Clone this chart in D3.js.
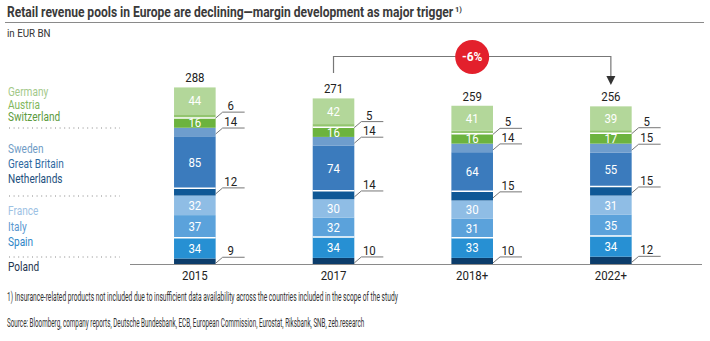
<!DOCTYPE html>
<html lang="en">
<head>
<meta charset="utf-8">
<title>Retail revenue pools in Europe</title>
<style>
  body { margin: 0; background: #fff; }
  svg text { font-family: Roboto, 'DejaVu Sans', sans-serif; }
</style>
<script src="https://d3js.org/d3.v7.min.js"></script>
</head>
<body>
<svg id="chart" width="710" height="341"></svg>
<script>
// data (EUR bn)
var years = ["2015", "2017", "2018+", "2022+"];
var totals = [288, 271, 259, 256];

var poland      = [9, 10, 10, 12];
var spain       = [34, 34, 33, 34];
var italy       = [37, 32, 31, 35];
var france      = [32, 30, 30, 31];
var netherlands = [12, 14, 15, 15];
var greatBritain = [85, 74, 64, 55];
var sweden      = [14, 14, 14, 15];
var switzerland = [16, 16, 16, 17];
var austria     = [6, 5, 5, 5];
var germany     = [44, 42, 41, 39];

var countries = ["Poland", "Spain", "Italy", "France", "Netherlands", "Great Britain",
                 "Sweden", "Switzerland", "Austria", "Germany"];
var seriesValues = [poland, spain, italy, france, netherlands, greatBritain,
                    sweden, switzerland, austria, germany];

var colors = {
  "Germany": "#b3d79a", "Austria": "#93c56f", "Switzerland": "#6cb33e",
  "Sweden": "#6e9dcd", "Great Britain": "#3b7bbd", "Netherlands": "#0f5896",
  "France": "#8fbde5", "Italy": "#5ba2db", "Spain": "#2790d3", "Poland": "#0c3d6b"
};
var legendColors = {
  "Germany": "#a3c98a", "Austria": "#7fb75c", "Switzerland": "#5b9a3c",
  "Sweden": "#6f9cc6", "Great Britain": "#2f6aa2", "Netherlands": "#1d4f7c",
  "France": "#9dc2e4", "Italy": "#5a98cf", "Spain": "#2f86c7", "Poland": "#1f3550"
};
var inside = ["Germany", "Switzerland", "Great Britain", "France", "Italy", "Spain"];
var callouts = ["Austria", "Sweden", "Netherlands", "Poland"];
var groupTops = ["Switzerland", "Netherlands", "Spain"]; // white gap above these groups

var rows = years.map(function(y, i) {
  var r = { year: y };
  countries.forEach(function(c, k) { r[c] = seriesValues[k][i]; });
  return r;
});

var svg = d3.select("#chart");

// squeeze text horizontally (the original uses a condensed face)
function squeeze(sel, k) {
  sel.each(function() {
    var t = d3.select(this);
    var tx = +t.attr("x") || 0, ty = +t.attr("y") || 0;
    t.attr("x", 0).attr("y", 0)
      .attr("transform", "translate(" + tx + "," + ty + ") scale(" + k + ",1)");
  });
}
function fitTo(sel, w) {
  squeeze(sel, w / sel.node().getComputedTextLength());
}

// title
fitTo(svg.append("text").attr("x", 7).attr("y", 17)
  .attr("font-size", 14).attr("font-weight", "bold").attr("fill", "#3a3a3a")
  .text("Retail revenue pools in Europe are declining\u2014margin development as major trigger"), 447);
svg.append("text").attr("x", 455).attr("y", 12).attr("font-size", 7.5)
  .attr("font-weight", "bold").attr("fill", "#3a3a3a").text("1)");
svg.append("line").attr("x1", 5).attr("x2", 704).attr("y1", 22.5).attr("y2", 22.5)
  .attr("stroke", "#8a8a8a").attr("stroke-width", 1.2);
squeeze(svg.append("text").attr("x", 7).attr("y", 37).attr("font-size", 11.5)
  .attr("fill", "#333").text("in EUR BN"), 0.85);

// scales
var x = d3.scaleBand().domain(years).range([125.5, 680.2])
  .paddingInner(0.7).paddingOuter(0.35);
var y = d3.scaleLinear().domain([0, 300]).range([264, 264 - 300 * 0.611]);

var stack = d3.stack().keys(countries)(rows);

var layers = svg.append("g").selectAll("g").data(stack).join("g")
  .attr("fill", function(d) { return colors[d.key]; });

layers.selectAll("rect").data(function(d) { return d; })
  .join("rect")
  .attr("x", function(d) { return x(d.data.year); })
  .attr("width", x.bandwidth())
  .attr("y", function(d) { return y(d[1]); })
  .attr("height", function(d) { return y(d[0]) - y(d[1]); });

// white separators between country groups
stack.filter(function(s) { return groupTops.indexOf(s.key) >= 0; }).forEach(function(s) {
  svg.append("g").selectAll("line").data(s).join("line")
    .attr("x1", function(d) { return x(d.data.year); })
    .attr("x2", function(d) { return x(d.data.year) + x.bandwidth(); })
    .attr("y1", function(d) { return y(d[1]); })
    .attr("y2", function(d) { return y(d[1]); })
    .attr("stroke", "#fff").attr("stroke-width", 1.5);
});

// values inside bars
stack.filter(function(s) { return inside.indexOf(s.key) >= 0; }).forEach(function(s) {
  squeeze(svg.append("g").selectAll("text").data(s).join("text")
    .attr("x", function(d) { return x(d.data.year) + x.bandwidth() / 2; })
    .attr("y", function(d) { return (y(d[0]) + y(d[1])) / 2 + 4.5; })
    .attr("text-anchor", "middle").attr("font-size", 13).attr("fill", "#fff")
    .text(function(d) { return d[1] - d[0]; }), 0.88);
});

// callouts for the thin segments
stack.filter(function(s) { return callouts.indexOf(s.key) >= 0; }).forEach(function(s) {
  var g = svg.append("g").selectAll("g").data(s).join("g");
  g.append("path")
    .attr("d", function(d) {
      var x0 = x(d.data.year) + x.bandwidth();
      var m = (y(d[0]) + y(d[1])) / 2;
      return "M" + x0 + "," + (m + 2) + "L" + (x0 + 7) + "," + (m - 4) + "L" + (x0 + 29) + "," + (m - 4);
    })
    .attr("fill", "none").attr("stroke", "#777").attr("stroke-width", 1);
  squeeze(g.append("text")
    .attr("x", function(d) { return x(d.data.year) + x.bandwidth() + 15; })
    .attr("y", function(d) { return (y(d[0]) + y(d[1])) / 2 - 6; })
    .attr("text-anchor", "middle").attr("font-size", 13).attr("fill", "#222")
    .text(function(d) { return d[1] - d[0]; }), 0.88);
});

// totals
squeeze(svg.append("g").selectAll("text").data(years).join("text")
  .attr("x", function(d) { return x(d) + x.bandwidth() / 2; })
  .attr("y", function(d, i) { return y(d3.sum(seriesValues, function(v) { return v[i]; })) - 5; })
  .attr("text-anchor", "middle").attr("font-size", 13).attr("fill", "#222")
  .text(function(d, i) { return totals[i]; }), 0.88);

// baseline + x axis
svg.append("line").attr("x1", 130).attr("x2", 702).attr("y1", 264.5).attr("y2", 264.5)
  .attr("stroke", "#8a8a8a").attr("stroke-width", 1.2);
var xAxis = svg.append("g").attr("transform", "translate(0,265)")
  .call(d3.axisBottom(x).tickSize(0).tickPadding(6));
xAxis.select(".domain").remove();
xAxis.selectAll("text").attr("font-size", 13).attr("fill", "#222")
  .attr("font-family", "Roboto, 'DejaVu Sans', sans-serif")
  .attr("transform", "scale(0.88,1)");

// legend
var legendY = { "Germany": 96, "Austria": 108.5, "Switzerland": 121,
  "Sweden": 153, "Great Britain": 168, "Netherlands": 183,
  "France": 215, "Italy": 231, "Spain": 246, "Poland": 271 };
squeeze(svg.append("g").selectAll("text").data(countries).join("text")
  .attr("x", 8).attr("y", function(d) { return legendY[d]; })
  .attr("font-size", 12).attr("fill", function(d) { return legendColors[d]; })
  .text(function(d) { return d; }), 0.84);
[128, 196, 257].forEach(function(ly) {
  svg.append("line").attr("x1", 9).attr("x2", 120).attr("y1", ly).attr("y2", ly)
    .attr("stroke", "#888").attr("stroke-width", 1).attr("stroke-dasharray", "1,3.6");
});

// -6% bracket from 2017 to 2022+
var xa = x("2017") + x.bandwidth() / 2;
var xb = x("2022+") + x.bandwidth() / 2;
svg.append("path")
  .attr("d", "M" + xa + ",73 L" + xa + ",56.5 L" + xb + ",56.5 L" + xb + ",78")
  .attr("fill", "none").attr("stroke", "#777").attr("stroke-width", 1.2);
svg.append("path")
  .attr("d", "M" + (xb - 4.5) + ",76 L" + (xb + 4.5) + ",76 L" + xb + ",85 Z")
  .attr("fill", "#333");
var cx = x("2018+") + x.bandwidth() / 2;
svg.append("circle").attr("cx", cx).attr("cy", 57).attr("r", 17).attr("fill", "#e3202c");
svg.append("text").attr("x", cx).attr("y", 61).attr("text-anchor", "middle")
  .attr("font-size", 12).attr("font-weight", "bold").attr("fill", "#fff").text("-6%");

// footnotes
fitTo(svg.append("text").attr("x", 7).attr("y", 301).attr("font-size", 12.5).attr("fill", "#333")
  .text("1) Insurance-related products not included due to insufficient data availability across the countries included in the scope of the study"), 391);
fitTo(svg.append("text").attr("x", 7).attr("y", 327).attr("font-size", 12.5).attr("fill", "#333")
  .text("Source: Bloomberg, company reports, Deutsche Bundesbank, ECB, European Commission, Eurostat, Riksbank, SNB, zeb.research"), 358);
</script>
</body>
</html>
